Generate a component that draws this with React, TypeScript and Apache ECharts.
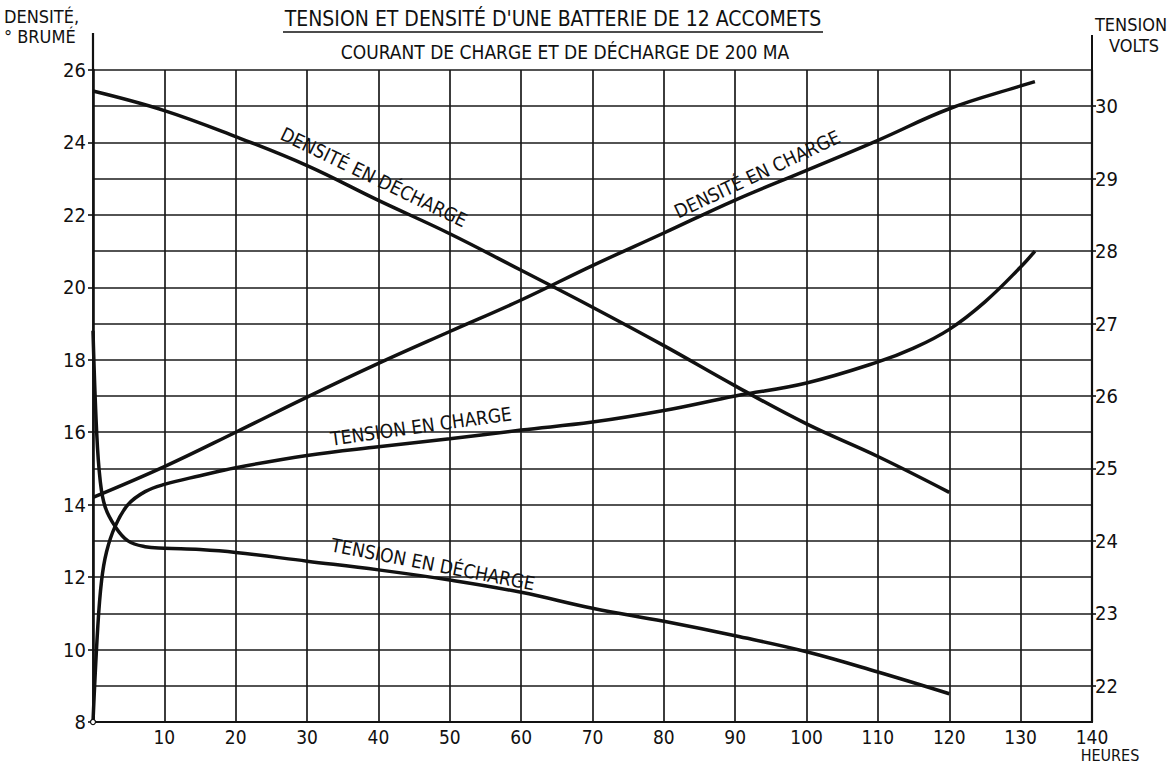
import React, { useEffect, useRef } from "react";
import * as echarts from "echarts";

// ---- Data ----
const xTicks = [0, 10, 20, 30, 40, 50, 60, 70, 80, 90, 100, 110, 120, 130, 140];
const densityTicks = [8, 10, 12, 14, 16, 18, 20, 22, 24, 26];
const voltTicks = [22, 23, 24, 25, 26, 27, 28, 29, 30];

// Densité en décharge (° Baumé, left axis)
const ddHours = [0, 10, 20, 30, 40, 50, 60, 70, 80, 90, 100, 110, 120];
const ddDensity = [25.42, 24.88, 24.16, 23.36, 22.4, 21.48, 20.47, 19.45, 18.39, 17.28, 16.23, 15.33, 14.34];

// Densité en charge (° Baumé, left axis)
const dcHours = [0, 10, 20, 30, 40, 50, 60, 70, 80, 90, 100, 110, 120, 130, 132];
const dcDensity = [14.2, 15.05, 16.0, 16.97, 17.9, 18.78, 19.65, 20.6, 21.5, 22.41, 23.23, 24.06, 24.93, 25.56, 25.68];

// Tension en charge (volts, right axis)
const tcHours = [0, 0.65, 1.2, 1.9, 3.1, 4.9, 7.3, 10, 15, 20, 30, 40, 50, 60, 70, 80, 90, 100, 110, 115, 120, 125, 130, 132];
const tcVolts = [21.5, 22.78, 23.45, 23.85, 24.2, 24.5, 24.68, 24.78, 24.9, 25.01, 25.18, 25.3, 25.41, 25.53, 25.64, 25.8, 26.0, 26.18, 26.47, 26.66, 26.92, 27.3, 27.78, 28.0];

// Tension en décharge (volts, right axis)
const tdHours = [0, 0.5, 1.0, 1.7, 3.1, 4.9, 7.3, 10, 15, 20, 30, 40, 50, 60, 70, 80, 90, 100, 110, 120];
const tdVolts = [26.9, 25.53, 24.84, 24.47, 24.2, 24.0, 23.92, 23.9, 23.88, 23.84, 23.72, 23.6, 23.46, 23.29, 23.07, 22.89, 22.69, 22.47, 22.19, 21.89];

const zip = (xs: number[], ys: number[]) => xs.map((x, i) => [x, ys[i]]);

const FONT = "'DejaVu Sans Condensed', 'Liberation Sans Narrow', 'DejaVu Sans', sans-serif";
const INK = "#111";

export default function App() {
  const ref = useRef<HTMLDivElement>(null);

  useEffect(() => {
    if (!ref.current) return;
    const chart = echarts.init(ref.current, undefined, { renderer: "svg" });

    const curveStyle = { color: INK, width: 3.5 };
    const gridLine = { color: "#1a1a1a", width: 1.7 };

    const txt = (text: string, x: number, y: number, size: number, rot = 0, align = "center") => ({
      type: "text",
      x,
      y,
      rotation: rot,
      style: {
        text,
        fill: INK,
        font: `${size}px ${FONT}`,
        textAlign: align,
        textVerticalAlign: "middle",
      },
      z: 100,
    });

    const line = (name: string, yAxisIndex: number, data: number[][]) => ({
      name,
      type: "line",
      yAxisIndex,
      data,
      showSymbol: false,
      smooth: 0.4,
      lineStyle: curveStyle,
      z: 10,
    });

    chart.setOption({
      animation: false,
      backgroundColor: "#fff",
      grid: { left: 93, right: 79, top: 70, bottom: 43, containLabel: false },
      xAxis: {
        type: "value",
        min: 0,
        max: 140,
        interval: 10,
        axisLine: { show: true, lineStyle: { color: INK, width: 2.2 } },
        axisTick: { show: false },
        axisLabel: {
          color: INK,
          fontSize: 19,
          fontFamily: FONT,
          margin: 5,
          formatter: (v: number) => (v === 0 ? "" : String(v)),
          customValues: xTicks,
        },
        splitLine: { show: true, lineStyle: gridLine },
      },
      yAxis: [
        {
          type: "value",
          position: "left",
          min: 8,
          max: 26,
          interval: 2,
          axisLine: { show: true, lineStyle: { color: INK, width: 2.6 } },
          axisTick: { show: true, inside: false, length: 5, lineStyle: { color: INK, width: 1.6 } },
          axisLabel: { color: INK, fontSize: 20, fontFamily: FONT, margin: 7, customValues: densityTicks },
          splitLine: { show: true, lineStyle: gridLine },
          minorTick: { show: false, splitNumber: 2 },
          minorSplitLine: { show: true, lineStyle: gridLine },
        },
        {
          type: "value",
          position: "right",
          min: 21.5,
          max: 30.5,
          axisLine: { show: true, lineStyle: { color: INK, width: 2.2 } },
          axisTick: { show: true, inside: false, length: 4, customValues: voltTicks, lineStyle: { color: INK, width: 1.6 } },
          axisLabel: { color: INK, fontSize: 20, fontFamily: FONT, margin: 3, customValues: voltTicks },
          splitLine: { show: false },
        },
      ],
      series: [
        line("Densité en décharge", 0, zip(ddHours, ddDensity)),
        line("Densité en charge", 0, zip(dcHours, dcDensity)),
        line("Tension en charge", 1, zip(tcHours, tcVolts)),
        line("Tension en décharge", 1, zip(tdHours, tdVolts)),
      ],
      graphic: [
        // titles
        txt("TENSION ET DENSITÉ D'UNE BATTERIE DE 12 ACCOMETS", 553, 19, 21),
        { type: "line", shape: { x1: 283, y1: 32, x2: 823, y2: 32 }, style: { stroke: INK, lineWidth: 1.6 } },
        txt("COURANT DE CHARGE ET DE DÉCHARGE DE 200 MA", 565, 52, 19),
        // axis names
        txt("DENSITÉ,", 4, 16, 18, 0, "left"),
        txt("° BRUMÉ", 4, 36, 18, 0, "left"),
        txt("TENSION", 1131, 24, 18),
        txt("VOLTS", 1134, 45, 18),
        txt("HEURES", 1110, 755, 16),
        // axis extensions above the plot
        { type: "line", shape: { x1: 93, y1: 33, x2: 93, y2: 70 }, style: { stroke: INK, lineWidth: 2.2 } },
        { type: "line", shape: { x1: 1092, y1: 35, x2: 1092, y2: 70 }, style: { stroke: INK, lineWidth: 2 } },
        // origin circle
        { type: "circle", shape: { cx: 93, cy: 722, r: 2.5 }, style: { fill: "#fff", stroke: INK, lineWidth: 1.2 }, z: 101 },
        // curve labels
        txt("DENSITÉ EN DÉCHARGE", 374, 177, 19, -0.45),
        txt("DENSITÉ EN CHARGE", 757, 174, 19, 0.44),
        txt("TENSION EN CHARGE", 421, 426, 19, 0.14),
        txt("TENSION EN DÉCHARGE", 433, 564, 19, -0.19),
      ],
    });

    return () => chart.dispose();
  }, []);

  return (
    <div
      ref={ref}
      style={{ position: "fixed", left: 0, top: 0, width: 1171, height: 765, background: "#fff" }}
    />
  );
}
